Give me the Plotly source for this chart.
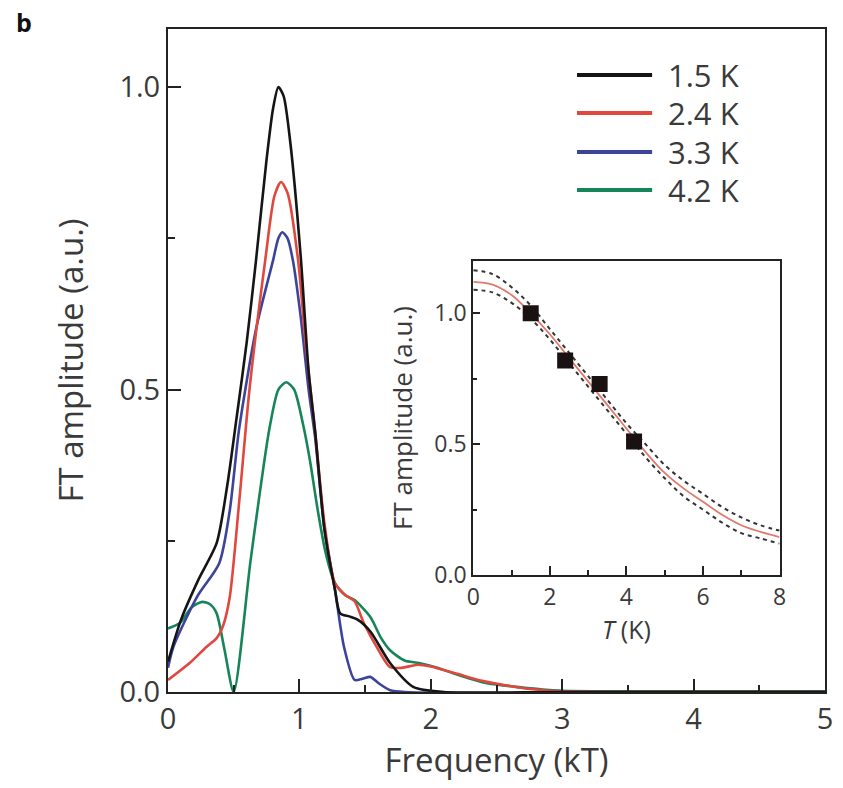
import plotly.graph_objects as go

# ---------------- main panel data (frequency in kT, FT amplitude a.u.) ----------------
series_names = ["1.5 K", "2.4 K", "3.3 K", "4.2 K"]
series_colors = ["#151515", "#e0483e", "#3c449a", "#17855a"]

f_black = [0, 0.1, 0.23, 0.37, 0.45, 0.52, 0.6, 0.67, 0.75, 0.80, 0.84, 0.88, 0.93, 1.01, 1.07, 1.12, 1.19, 1.27,
           1.31, 1.38, 1.44, 1.54, 1.69, 1.87, 2.1, 3, 5]
a_black = [0.05, 0.12, 0.185, 0.246, 0.34, 0.45, 0.58, 0.714, 0.88, 0.965, 1.0, 0.985, 0.91, 0.72, 0.53, 0.43, 0.27, 0.17,
           0.13, 0.125, 0.12, 0.10, 0.048, 0.008, 0.0, 0.0, 0.0]

f_red = [0, 0.165, 0.29, 0.37, 0.42, 0.47, 0.54, 0.62, 0.74, 0.81, 0.86, 0.91, 0.99, 1.05, 1.12, 1.19, 1.27, 1.35,
         1.42, 1.49, 1.6, 1.69, 1.78, 1.9, 2.0, 2.2, 2.4, 2.6, 2.8, 3.0, 5]
a_red = [0.02, 0.048, 0.074, 0.089, 0.11, 0.157, 0.31, 0.50, 0.714, 0.82, 0.843, 0.825, 0.714, 0.57, 0.43, 0.28, 0.18, 0.16,
         0.15, 0.114, 0.07, 0.041, 0.04, 0.045, 0.042, 0.03, 0.018, 0.01, 0.004, 0.001, 0.0]

f_blue = [0, 0.04, 0.22, 0.39, 0.47, 0.54, 0.67, 0.80, 0.84, 0.87, 0.91, 0.95, 1.01, 1.07, 1.12, 1.19, 1.27, 1.34,
          1.42, 1.48, 1.54, 1.60, 1.69, 1.8, 5]
a_blue = [0.04, 0.074, 0.157, 0.213, 0.30, 0.433, 0.60, 0.714, 0.75, 0.76, 0.75, 0.714, 0.62, 0.50, 0.42, 0.27, 0.17, 0.074,
          0.02, 0.022, 0.025, 0.015, 0.003, 0.0, 0.0]

f_green = [0, 0.09, 0.18, 0.26, 0.32, 0.37, 0.43, 0.50, 0.63, 0.77, 0.84, 0.90, 0.96, 1.03, 1.08, 1.14, 1.2,
           1.27, 1.35, 1.42, 1.54, 1.62, 1.69, 1.8, 1.91, 2.05, 2.17, 2.3, 2.42, 2.55, 2.67, 2.85, 3.0, 3.5, 5]
a_green = [0.105, 0.114, 0.14, 0.149, 0.145, 0.13, 0.07, 0.0, 0.22, 0.433, 0.50, 0.512, 0.50, 0.44, 0.383, 0.30, 0.23,
           0.18, 0.16, 0.152, 0.124, 0.09, 0.069, 0.052, 0.048, 0.04, 0.031, 0.022, 0.015, 0.011, 0.008, 0.004, 0.002, 0.001, 0.001]

main_x_ticks = [0, 1, 2, 3, 4, 5]
main_y_ticks = [0.0, 0.5, 1.0]

# ---------------- inset data ----------------
inset_T = [1.5, 2.4, 3.3, 4.2]
inset_amp = [1.0, 0.82, 0.73, 0.51]
fit_T = [0, 0.5, 1, 1.5, 2, 2.5, 3, 3.5, 4, 4.5, 5, 5.5, 6, 6.5, 7, 7.5, 8]
fit_amp = [1.12, 1.11, 1.07, 1.00, 0.92, 0.83, 0.74, 0.65, 0.56, 0.47, 0.39, 0.33, 0.28, 0.23, 0.19, 0.165, 0.145]
fit_upper = [1.165, 1.15, 1.10, 1.03, 0.94, 0.85, 0.76, 0.67, 0.58, 0.50, 0.42, 0.36, 0.31, 0.26, 0.22, 0.19, 0.17]
fit_lower = [1.09, 1.08, 1.04, 0.98, 0.90, 0.81, 0.72, 0.63, 0.54, 0.45, 0.37, 0.30, 0.25, 0.20, 0.16, 0.14, 0.12]
inset_x_ticks = [0, 2, 4, 6, 8]
inset_y_ticks = [0.0, 0.5, 1.0]

FONT = "Open Sans"
TXT = "#3a3a3a"

fig = go.Figure()
curves = [(f_black, a_black), (f_red, a_red), (f_blue, a_blue), (f_green, a_green)]
for i in [3, 2, 1, 0]:
    fx, fy = curves[i]
    fig.add_trace(go.Scatter(x=fx, y=fy, mode="lines", name=series_names[i],
                             line=dict(color=series_colors[i], width=2.6, shape="spline", smoothing=0.7),
                             showlegend=False, xaxis="x", yaxis="y"))

# inset traces
fig.add_trace(go.Scatter(x=fit_T, y=fit_upper, mode="lines", line=dict(color="#333", width=2, dash="4px,4px", shape="spline"),
                         showlegend=False, xaxis="x2", yaxis="y2"))
fig.add_trace(go.Scatter(x=fit_T, y=fit_lower, mode="lines", line=dict(color="#333", width=2, dash="4px,4px", shape="spline"),
                         showlegend=False, xaxis="x2", yaxis="y2"))
fig.add_trace(go.Scatter(x=fit_T, y=fit_amp, mode="lines", line=dict(color="#e07a6e", width=1.8, shape="spline"),
                         showlegend=False, xaxis="x2", yaxis="y2"))
fig.add_trace(go.Scatter(x=inset_T, y=inset_amp, mode="markers",
                         marker=dict(symbol="square", size=16, color="#1a1212"),
                         showlegend=False, xaxis="x2", yaxis="y2"))

# plot geometry (pixels)
L, R, T, B = 168, 10, 29, 96
W, H = 843, 788
pw, ph = W - L - R, H - T - B

def px_x(p):
    return (p - L) / pw

def px_y(p):
    return (H - B - p) / ph

axis_common = dict(showline=True, linecolor="#222", linewidth=2, mirror=True, ticks="inside",
                   showgrid=False, zeroline=False, tickcolor="#222")

fig.update_layout(
    width=W, height=H, margin=dict(l=L, r=R, t=T, b=B),
    paper_bgcolor="white", plot_bgcolor="white",
    font=dict(family=FONT, color=TXT),
    xaxis=dict(range=[0, 5], tickvals=main_x_ticks, ticklen=13, tickwidth=2,
               minor=dict(dtick=0.5, ticklen=7, tickwidth=2, ticks="inside", tickcolor="#222"),
               tickfont=dict(size=29, family=FONT, color=TXT),
               title=dict(text="Frequency (kT)", font=dict(size=33, family=FONT, color=TXT), standoff=6),
               **axis_common),
    yaxis=dict(range=[0, 1.096], tickvals=main_y_ticks, tickformat=".1f", ticklen=13, tickwidth=2,
               minor=dict(dtick=0.25, ticklen=7, tickwidth=2, ticks="inside", tickcolor="#222"),
               tickfont=dict(size=29, family=FONT, color=TXT),
               title=dict(text="FT amplitude (a.u.)", font=dict(size=33, family=FONT, color=TXT), standoff=26),
               **axis_common),
    xaxis2=dict(domain=[px_x(477), px_x(787)], anchor="y2", range=[0, 8], tickvals=inset_x_ticks,
                ticklen=9, tickwidth=1.5,
                minor=dict(dtick=1, ticklen=5, tickwidth=1.5, ticks="inside", tickcolor="#222"),
                tickfont=dict(size=23, family=FONT, color=TXT),
                title=dict(text="<i>T</i> (K)", font=dict(size=25, family=FONT, color=TXT), standoff=4),
                **axis_common),
    yaxis2=dict(domain=[px_y(575), px_y(261)], anchor="x2", range=[0, 1.2], tickvals=inset_y_ticks,
                tickformat=".1f", ticklen=7, tickwidth=1.5,
                minor=dict(dtick=0.25, ticklen=4, tickwidth=1.5, ticks="inside", tickcolor="#222"),
                tickfont=dict(size=23, family=FONT, color=TXT),
                title=dict(text="FT amplitude (a.u.)", font=dict(size=26, family=FONT, color=TXT), standoff=14),
                **axis_common),
)

# manual legend (long line samples as in the reference)
leg_y = [75, 113, 152, 190]
for i, name in enumerate(series_names):
    yy = px_y(leg_y[i])
    fig.add_shape(type="line", xref="paper", yref="paper", x0=px_x(582), x1=px_x(658), y0=yy, y1=yy,
                  line=dict(color=series_colors[i], width=4))
    fig.add_annotation(xref="paper", yref="paper", x=px_x(672), y=yy, text=name, showarrow=False,
                       xanchor="left", yanchor="middle", font=dict(size=31, family=FONT, color=TXT))

# panel label
fig.add_annotation(xref="paper", yref="paper", x=px_x(12), y=px_y(22), text="<b>b</b>", showarrow=False,
                   xanchor="left", yanchor="middle", font=dict(size=25, family=FONT, color="#111"))

fig.write_html("out.html")
